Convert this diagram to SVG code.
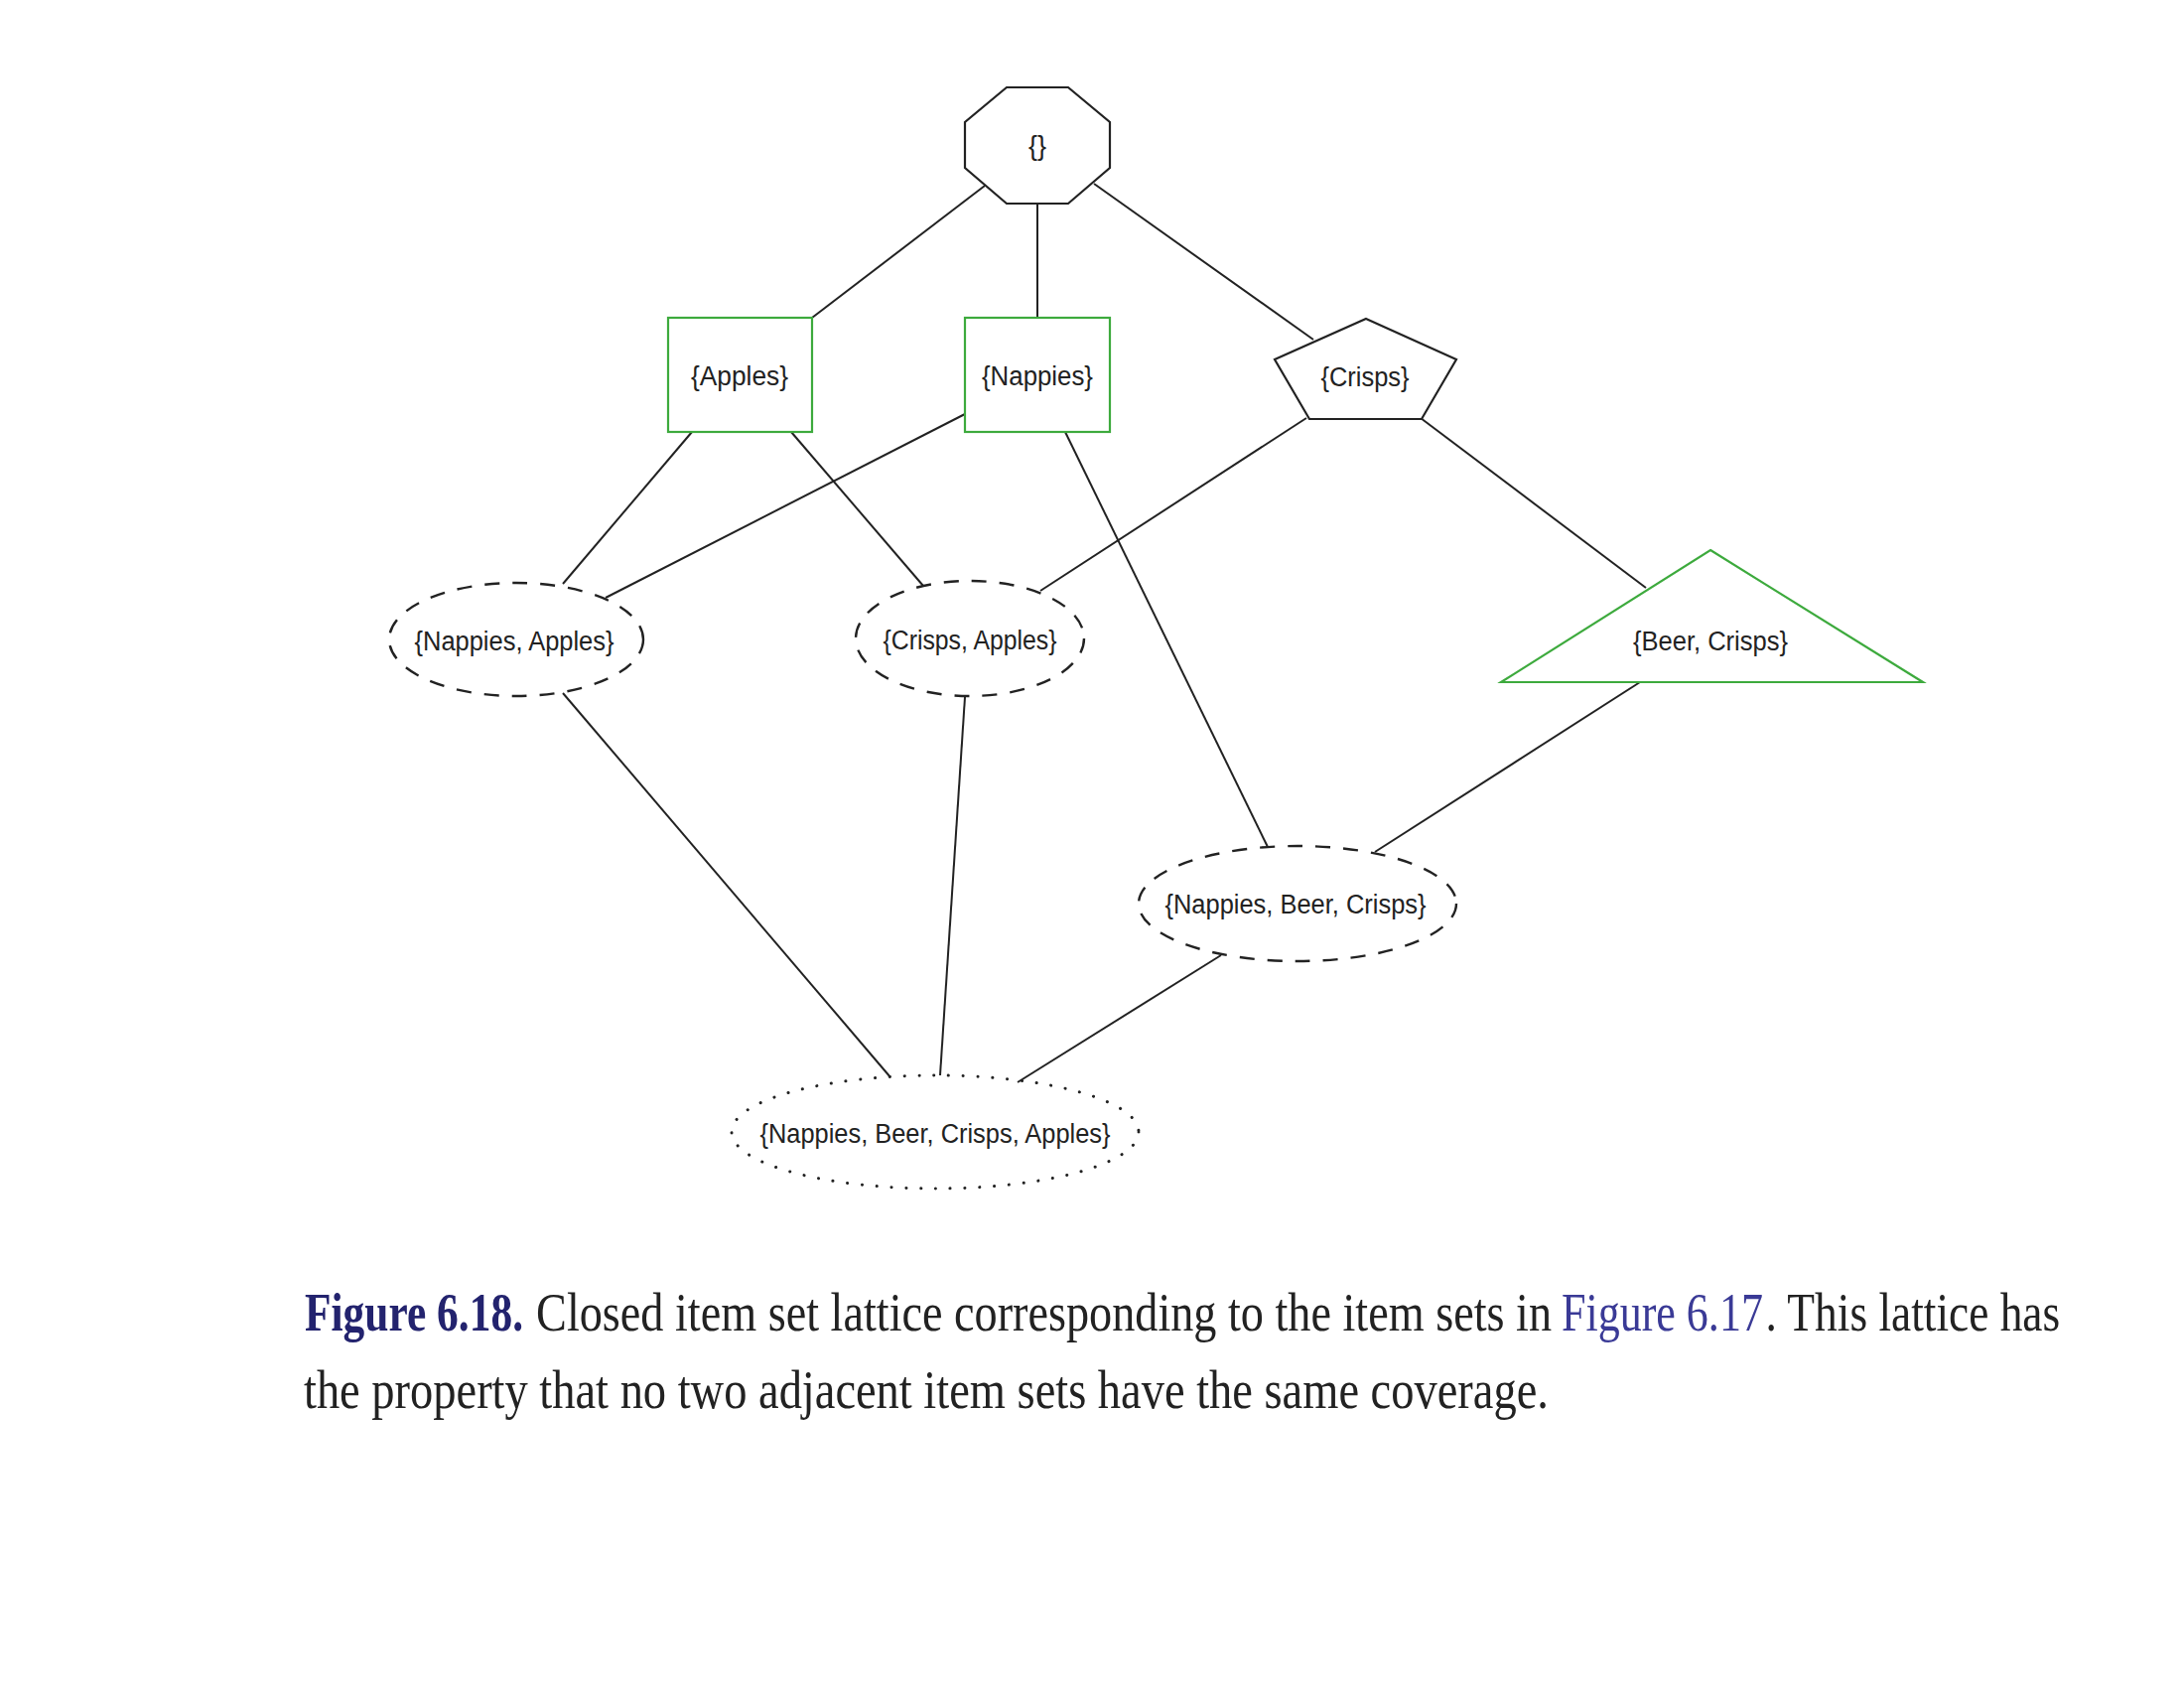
<svg xmlns="http://www.w3.org/2000/svg" width="2200" height="1700" viewBox="0 0 2200 1700">
<style>
.lbl{font-family:"Liberation Sans",Arial,sans-serif;font-size:27px;fill:#222;text-anchor:middle}
.blk{fill:#fff;stroke:#222;stroke-width:2.2}
.grn{fill:#fff;stroke:#3daa3d;stroke-width:2.2}
.dash{fill:none;stroke:#222;stroke-width:2.4;stroke-dasharray:15 13}
.dot{fill:none;stroke:#222;stroke-width:3;stroke-linecap:round;stroke-dasharray:0.1 14.7}
.edge{stroke:#222;stroke-width:2;fill:none}
.cap{font-family:"Liberation Serif","Times New Roman",serif;font-size:54px;fill:#222}
</style>
<rect width="2200" height="1700" fill="#fff"/>
<g id="edges">
<line class="edge" x1="992" y1="187" x2="818" y2="320"/>
<line class="edge" x1="1045" y1="205" x2="1045" y2="320"/>
<line class="edge" x1="1102" y1="185" x2="1323" y2="342"/>
<line class="edge" x1="697" y1="435" x2="567" y2="588"/>
<line class="edge" x1="797" y1="435" x2="930" y2="590"/>
<line class="edge" x1="972" y1="417" x2="610" y2="602"/>
<line class="edge" x1="1073" y1="435" x2="1277" y2="853"/>
<line class="edge" x1="1316" y1="421" x2="1048" y2="595"/>
<line class="edge" x1="1431" y1="421" x2="1658" y2="592"/>
<line class="edge" x1="1652" y1="687" x2="1385" y2="858"/>
<line class="edge" x1="567" y1="698" x2="897" y2="1085"/>
<line class="edge" x1="972" y1="702" x2="947" y2="1083"/>
<line class="edge" x1="1230" y1="962" x2="1025" y2="1090"/>
</g>
<g id="n_empty">
<polygon class="blk" points="1014,88 1076,88 1118,123 1118,169 1076,205 1014,205 972,169 972,123"/>
<text class="lbl" x="1045" y="156">{}</text>
</g>
<g id="n_apples">
<rect class="grn" x="673" y="320" width="145" height="115"/>
<text class="lbl" x="745" y="388" textLength="98" lengthAdjust="spacingAndGlyphs">{Apples}</text>
</g>
<g id="n_nappies">
<rect class="grn" x="972" y="320" width="146" height="115"/>
<text class="lbl" x="1045" y="388" textLength="112" lengthAdjust="spacingAndGlyphs">{Nappies}</text>
</g>
<g id="n_crisps">
<polygon class="blk" points="1376,321 1467,362 1432,422 1319,422 1284,362"/>
<text class="lbl" x="1375" y="389" textLength="89" lengthAdjust="spacingAndGlyphs">{Crisps}</text>
</g>
<g id="n_nappies_apples">
<ellipse class="dash" cx="520" cy="644" rx="128" ry="57"/>
<text class="lbl" x="518" y="655" textLength="201" lengthAdjust="spacingAndGlyphs">{Nappies, Apples}</text>
</g>
<g id="n_crisps_apples">
<ellipse class="dash" cx="977" cy="643" rx="115" ry="58"/>
<text class="lbl" x="977" y="654" textLength="175" lengthAdjust="spacingAndGlyphs">{Crisps, Apples}</text>
</g>
<g id="n_beer_crisps">
<polygon class="grn" points="1723,554 1937,687 1512,687"/>
<text class="lbl" x="1723" y="655" textLength="156" lengthAdjust="spacingAndGlyphs">{Beer, Crisps}</text>
</g>
<g id="n_nappies_beer_crisps">
<ellipse class="dash" cx="1307" cy="910" rx="160" ry="58"/>
<text class="lbl" x="1305" y="920" textLength="263" lengthAdjust="spacingAndGlyphs">{Nappies, Beer, Crisps}</text>
</g>
<g id="n_all">
<ellipse class="dot" cx="942" cy="1140" rx="205" ry="57"/>
<text class="lbl" x="942" y="1151" textLength="353" lengthAdjust="spacingAndGlyphs">{Nappies, Beer, Crisps, Apples}</text>
</g>
<g id="caption" transform="scale(0.86,1)">
<text class="cap" x="357" y="1340" font-weight="bold" style="fill:#23236e" textLength="255.8" lengthAdjust="spacingAndGlyphs">Figure 6.18.</text>
<text class="cap" x="628" y="1340" textLength="1189.5" lengthAdjust="spacingAndGlyphs">Closed item set lattice corresponding to the item sets in</text>
<text class="cap" x="1829" y="1340" style="fill:#3a3a96" textLength="236" lengthAdjust="spacingAndGlyphs">Figure 6.17</text>
<text class="cap" x="2068" y="1340" textLength="345" lengthAdjust="spacingAndGlyphs">. This lattice has</text>
<text class="cap" x="355.8" y="1418" textLength="1458" lengthAdjust="spacingAndGlyphs">the property that no two adjacent item sets have the same coverage.</text>
</g>
</svg>
